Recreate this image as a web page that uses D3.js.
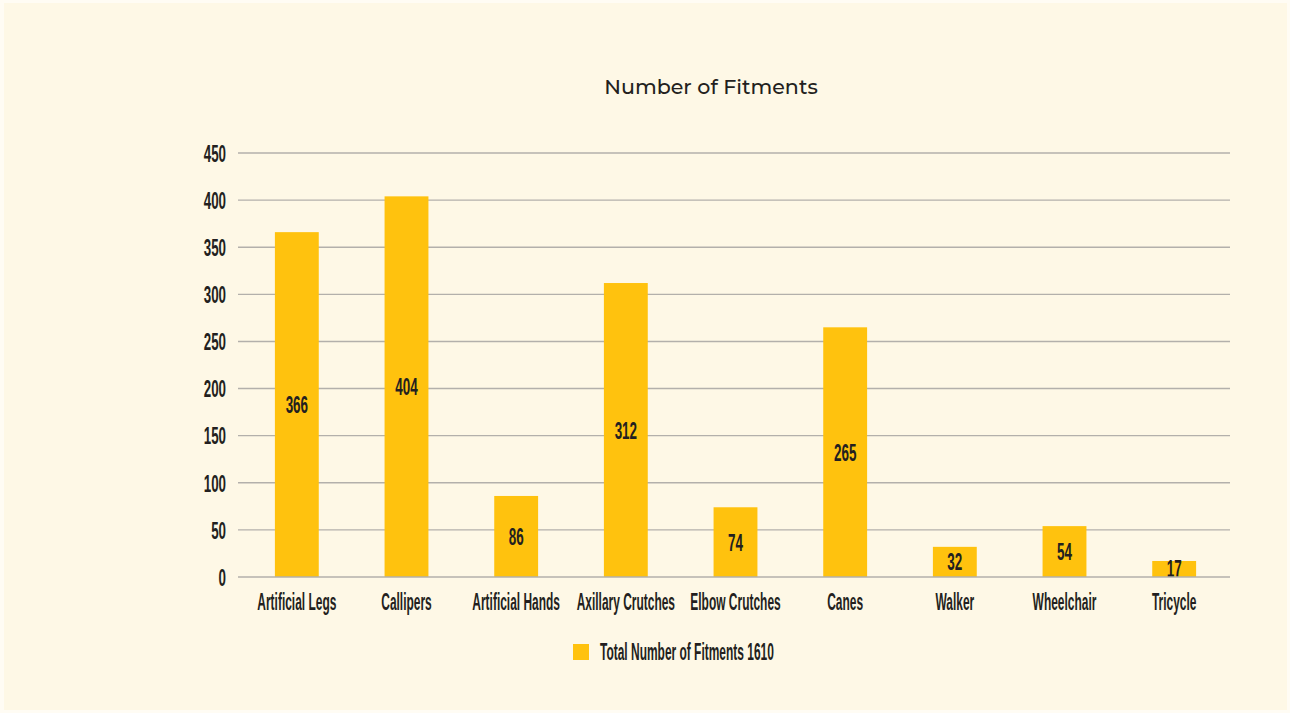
<!DOCTYPE html>
<html>
<head>
<meta charset="utf-8">
<script src="https://cdn.jsdelivr.net/npm/d3@7"></script>
<style>
  html, body { margin: 0; padding: 0; background: #fffcf4; }
  svg { display: block; }
  .cond { font-family: "Liberation Sans", Arial, sans-serif; font-weight: bold; }
</style>
</head>
<body>
<svg id="chart" width="1290" height="713"></svg>
<script>
// Fitments delivered, by device type
const categories = ["Artificial Legs", "Callipers", "Artificial Hands", "Axillary Crutches",
  "Elbow Crutches", "Canes", "Walker", "Wheelchair", "Tricycle"];
const fitments = [366, 404, 86, 312, 74, 265, 32, 54, 17];
const yTicks = [0, 50, 100, 150, 200, 250, 300, 350, 400, 450];
const chartTitle = "Number of Fitments";
const legendLabel = "Total Number of Fitments 1610";

const W = 1290, H = 713;
const margin = { left: 238, right: 60, top: 153, bottom: 136 };
const svg = d3.select("#chart");
const ink = "#231f20";
const barColor = "#ffc20e";
const gridColor = "#b3b0ab";
// horizontal squeeze giving a condensed display face
const sqText = 0.52, sqNum = 0.58;

// panel
svg.append("rect").attr("x", 4).attr("y", 3).attr("width", W - 7).attr("height", H - 6)
  .attr("fill", "#fef8e6");

const y = d3.scaleLinear().domain([0, 450]).range([H - margin.bottom, margin.top]);
const x = d3.scaleBand().domain(categories).range([242, 1229]).paddingInner(0.6).paddingOuter(0.3);

// title
svg.append("text").attr("x", 711).attr("y", 94).attr("text-anchor", "middle")
  .attr("font-family", "Montserrat, 'Noto Sans', 'Open Sans', sans-serif")
  .attr("font-size", 20.6).attr("font-weight", 500).attr("fill", ink).text(chartTitle);

// gridlines
svg.append("g").selectAll("line").data(yTicks.filter(d => d > 0)).join("line")
  .attr("x1", margin.left).attr("x2", W - margin.right)
  .attr("y1", d => y(d)).attr("y2", d => y(d))
  .attr("stroke", gridColor).attr("stroke-width", 1.4);

// y axis labels
const yAxis = d3.axisLeft(y).tickValues(yTicks).tickSize(0);
const gy = svg.append("g").attr("transform", `translate(${margin.left},0)`).call(yAxis);
gy.select(".domain").remove();
gy.selectAll(".tick text")
  .attr("class", "cond").attr("font-size", 23).attr("fill", ink)
  .attr("x", -12 / sqNum).attr("dy", "0.36em")
  .attr("transform", `scale(${sqNum},1)`);

// bars
svg.append("g").selectAll("rect").data(fitments).join("rect")
  .attr("x", (d, i) => x(categories[i]))
  .attr("width", x.bandwidth())
  .attr("y", d => y(d))
  .attr("height", d => y(0) - y(d))
  .attr("fill", barColor);

// value labels, kept inside the plot area
svg.append("clipPath").attr("id", "plotClip")
  .append("rect").attr("x", margin.left).attr("y", 0)
  .attr("width", W - margin.right - margin.left).attr("height", y(0));

svg.append("g").attr("clip-path", "url(#plotClip)")
  .selectAll("text").data(fitments).join("text")
  .attr("class", "cond")
  .attr("transform", (d, i) =>
    `translate(${x(categories[i]) + x.bandwidth() / 2},${(y(d) + y(0)) / 2 + 8.5}) scale(${sqNum - 0.02},1)`)
  .attr("text-anchor", "middle").attr("font-size", 24).attr("fill", ink)
  .text(d => d);

// baseline
svg.append("line").attr("x1", margin.left).attr("x2", W - margin.right)
  .attr("y1", y(0)).attr("y2", y(0)).attr("stroke", gridColor).attr("stroke-width", 1.6);

// x axis labels
const xAxis = d3.axisBottom(x).tickSize(0).tickPadding(17);
const gx = svg.append("g").attr("transform", `translate(0,${y(0)})`).call(xAxis);
gx.select(".domain").remove();
gx.selectAll(".tick text")
  .attr("class", "cond").attr("font-size", 23).attr("fill", ink)
  .attr("transform", `scale(${sqText},1)`);

// legend
svg.append("rect").attr("x", 573).attr("y", 644).attr("width", 16).attr("height", 16).attr("fill", barColor);
svg.append("text").attr("class", "cond")
  .attr("transform", `translate(600,659.5) scale(${sqText},1)`)
  .attr("font-size", 23).attr("fill", ink).text(legendLabel);
</script>
</body>
</html>
